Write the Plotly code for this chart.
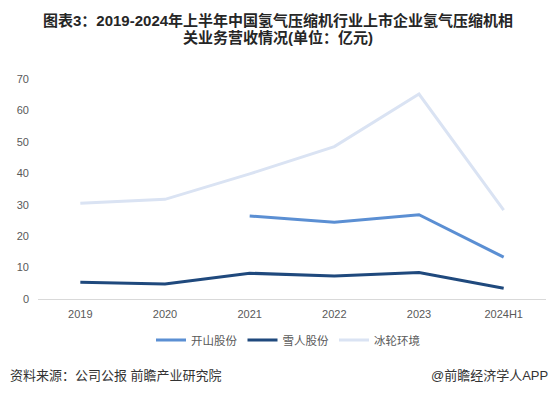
import plotly.graph_objects as go

categories = ["2019", "2020", "2021", "2022", "2023", "2024H1"]
kaishan = [None, None, 26.4, 24.4, 26.8, 13.3]
xueren = [5.3, 4.8, 8.2, 7.3, 8.4, 3.4]
binglun = [30.5, 31.7, 39.8, 48.5, 65.2, 28.3]
series_names = ["开山股份", "雪人股份", "冰轮环境"]
series_colors = ["#5b8fd3", "#1f497d", "#dae3f3"]
y_ticks = [0, 10, 20, 30, 40, 50, 60, 70]
title_lines = ["图表3：2019-2024年上半年中国氢气压缩机行业上市企业氢气压缩机相",
               "关业务营收情况(单位：亿元)"]

FONT = "Liberation Sans, Noto Sans CJK SC, sans-serif"
W, H = 555, 396
L, R, T, B = 38, 9, 79, 97
pw = W - L - R
ph = H - T - B

fig = go.Figure()
for name, vals, col in zip(series_names, [kaishan, xueren, binglun], series_colors):
    fig.add_trace(go.Scatter(
        x=categories, y=vals, name=name, mode="lines",
        line=dict(color=col, width=3), connectgaps=False,
    ))

anns = []
for txt, py in zip(title_lines, [20, 37]):
    anns.append(dict(
        text=txt, showarrow=False, xref="paper", yref="paper",
        x=(W / 2 - L) / pw, y=(H - B - py) / ph,
        xanchor="center", yanchor="middle",
        font=dict(family=FONT, size=15, color="#262626", weight="bold"),
    ))
anns += [
    dict(text="资料来源：公司公报 前瞻产业研究院", showarrow=False,
         xref="paper", yref="paper", x=(8 - L) / pw, y=(H - B - 375) / ph,
         xanchor="left", yanchor="middle",
         font=dict(family=FONT, size=13, color="#333333")),
    dict(text="@前瞻经济学人APP", showarrow=False,
         xref="paper", yref="paper", x=(550 - L) / pw, y=(H - B - 375) / ph,
         xanchor="right", yanchor="middle",
         font=dict(family=FONT, size=13, color="#333333")),
]

fig.update_layout(
    width=W, height=H,
    margin=dict(l=L, r=R, t=T, b=B),
    paper_bgcolor="white", plot_bgcolor="white",
    font=dict(family=FONT, color="#595959", size=11),
    showlegend=True,
    legend=dict(
        orientation="h", x=(288 - L) / pw, xanchor="center",
        y=-(340 - (H - B)) / ph, yanchor="middle",
        font=dict(family=FONT, size=11.5, color="#595959"),
        itemwidth=30, tracegroupgap=0, bgcolor="rgba(0,0,0,0)",
    ),
    xaxis=dict(
        type="category", range=[-0.5, 5.5], showgrid=False,
        showline=True, linecolor="#d9d9d9", linewidth=1,
        ticks="", tickfont=dict(size=11, color="#595959"),
        ticklabelstandoff=5, fixedrange=True,
    ),
    yaxis=dict(
        range=[0, 70], tickvals=y_ticks, showgrid=False, zeroline=False,
        showline=False, ticks="", tickfont=dict(size=11, color="#595959"),
        ticklabelstandoff=8, fixedrange=True,
    ),
    annotations=anns,
)

fig.write_html(
    "out.html",
    config={"displayModeBar": False},
    post_script="document.body.style.margin='0';document.body.style.padding='0';",
)
